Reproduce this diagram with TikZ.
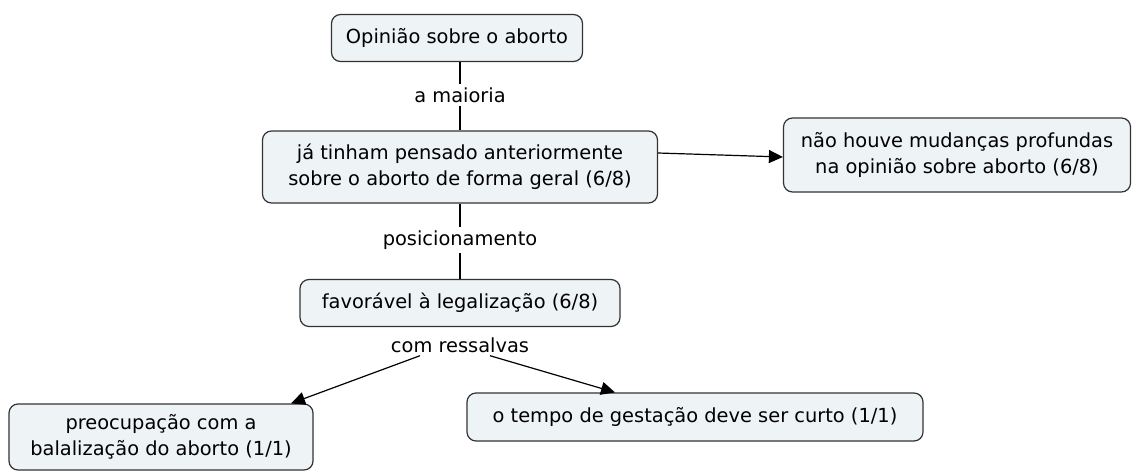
\documentclass[tikz,border=0pt]{standalone}
\usepackage{fontspec}
\setmainfont{DejaVu Sans}
\usetikzlibrary{arrows.meta,positioning,calc}
\definecolor{ConceptFill}{HTML}{EEF3F6}
\definecolor{ConceptLine}{HTML}{333333}

\begin{document}
\begin{tikzpicture}[
	x=1pt, y=-1pt,
	concept/.style={
		draw=ConceptLine,
		fill=ConceptFill,
		line width=1.2pt,
		rounded corners=9pt,
		align=center,
		font=\fontsize{19.4}{26}\selectfont,
		inner xsep=12pt,
		inner ysep=6pt
	},
	linkword/.style={
		font=\fontsize{19.4}{26}\selectfont,
		inner sep=3pt
	},
	link/.style={
		line width=1.2pt,
		draw=black
	},
	flow/.style={
		-{Triangle[length=14pt,width=13pt]},
		line width=1.2pt,
		draw=black
	}
]
\useasboundingbox (0,0) rectangle (1132,474);

\node[concept, minimum width=251pt, minimum height=47pt] (opiniao) at (457,38)
	{Opinião sobre o aborto};

\node[linkword] (maioria) at (460,95) {a maioria};

\node[concept, minimum width=395pt, minimum height=72pt] (pensado) at (460,167)
	{já tinham pensado anteriormente\\sobre o aborto de forma geral (6/8)};

\node[concept, minimum width=347pt, minimum height=74pt] (mudancas) at (957,155)
	{não houve mudanças profundas\\na opinião sobre aborto (6/8)};

\node[linkword] (posicao) at (460,240) {posicionamento};

\node[concept, minimum width=320pt, minimum height=47pt] (favoravel) at (460,303)
	{favorável à legalização (6/8)};

\node[linkword] (ressalvas) at (460,345) {com ressalvas};

\node[concept, minimum width=304pt, minimum height=66pt] (banal) at (161,437)
	{preocupação com a\\balalização do aborto (1/1)};

\node[concept, minimum width=456pt, minimum height=48pt] (gestacao) at (695,417)
	{o tempo de gestação deve ser curto (1/1)};

\draw[link] (opiniao.south -| maioria) -- (maioria);
\draw[link] (maioria) -- (pensado);
\draw[flow] ([yshift=14pt]pensado.east) -- ([yshift=-2pt]mudancas.west);
\draw[link] (pensado) -- (posicao);
\draw[link] (posicao) -- (favoravel);
\draw[flow] ($(ressalvas.south)+(-40,0)$) -- ($(banal.north)+(130,0)$);
\draw[flow] ($(ressalvas.south)+(30,0)$) -- ($(gestacao.north)+(-80,0)$);

\end{tikzpicture}
\end{document}
